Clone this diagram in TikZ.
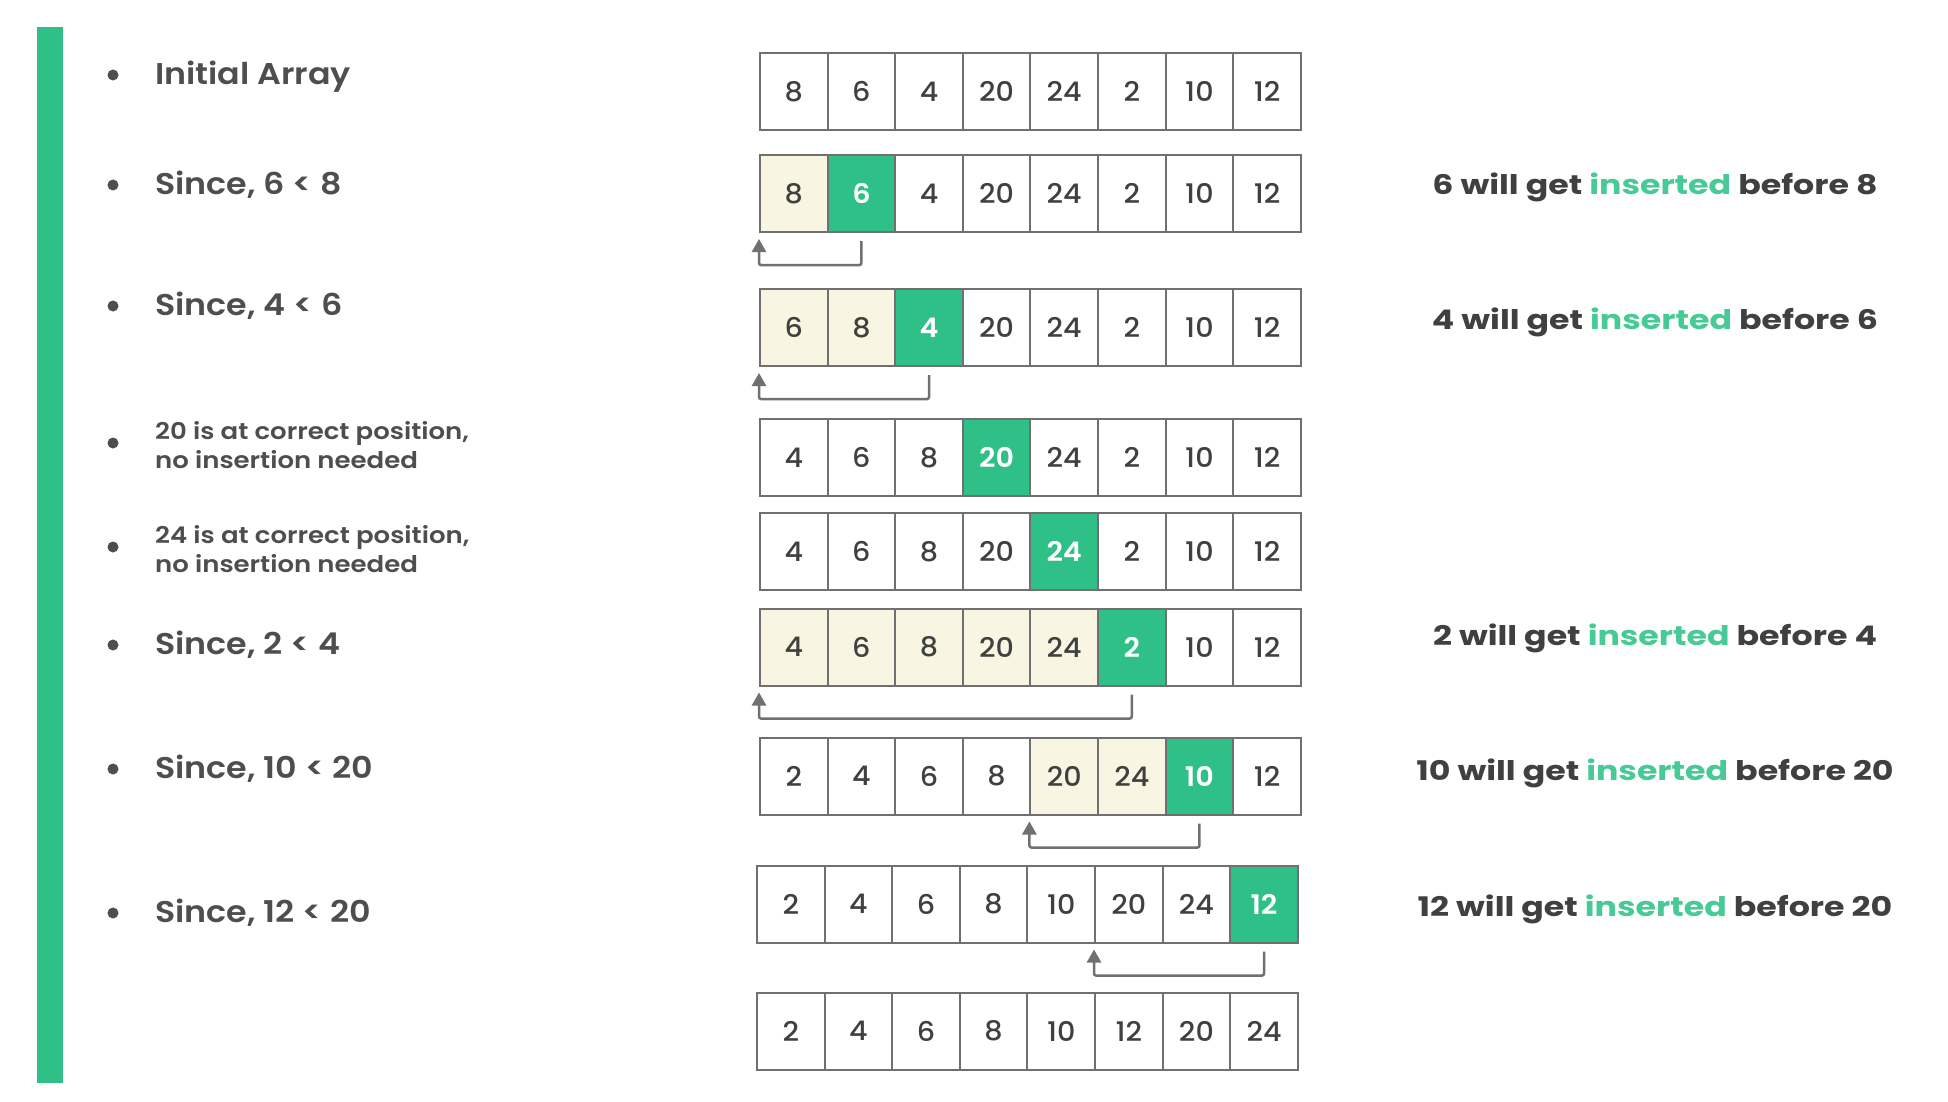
\documentclass[tikz,border=0pt]{standalone}
\usepackage{fontspec}
\setmainfont{Poppins}
\newfontfamily\popsemi{Poppins SemiBold}[FakeStretch=1.11]
\newfontfamily\popsemis{Poppins SemiBold}[FakeStretch=1.13]
\newfontfamily\popbold{Poppins Bold}[FakeStretch=1.23]
\newfontfamily\popmed{Poppins Medium}[FakeStretch=1.06]
\newfontfamily\popcell{Poppins SemiBold}[FakeStretch=1.06]
\usetikzlibrary{arrows.meta,calc}
\definecolor{ggreen}{RGB}{46,192,134}
\definecolor{lgreen}{RGB}{72,202,150}
\definecolor{cream}{RGB}{248,246,226}
\definecolor{txt}{RGB}{64,64,64}
\definecolor{lbl}{RGB}{78,78,78}
\definecolor{bord}{RGB}{112,112,112}
\definecolor{arrc}{RGB}{112,112,112}
\newcommand\arrayrow[4]{%
  \foreach \v/\s [count=\i] in {#4} {
    \node[cell, st\s] (#1c\i) at ({#2+(\i-0.5)*67.6},#3) {\v};
  }}
\begin{document}
\begin{tikzpicture}[x=1pt,y=-1pt,
  cell/.style={draw=bord, line width=2pt, minimum width=67.6pt, minimum height=77pt,
    inner sep=0pt, text=txt, font=\popmed\fontsize{27}{27}\selectfont},
  stn/.style={fill=white},
  stc/.style={fill=cream},
  stg/.style={fill=ggreen, text=white, font=\popcell\fontsize{27}{27}\selectfont},
  bul/.style={circle, fill=lbl, minimum size=11pt, inner sep=0pt},
  lab/.style={anchor=mid west, inner sep=0pt, text=lbl, font=\popsemi\fontsize{30}{32}\selectfont},
  lab2/.style={anchor=west, inner sep=0pt, text=lbl, align=left, font=\popsemis\fontsize{23}{29}\selectfont},
  note/.style={anchor=mid, inner sep=0pt, text=txt, font=\popbold\fontsize{27}{30}\selectfont},
  arr/.style={draw=arrc, line width=2.5pt, rounded corners=2pt, -{Triangle[width=14pt,length=13pt]}}
]
\useasboundingbox[fill=white] (0,0) rectangle (1948,1102);
% green bar
\fill[ggreen] (37,27) rectangle (63,1083);

% arrays
\arrayrow{r1}{760}{91.5}{8/n,6/n,4/n,20/n,24/n,2/n,10/n,12/n}
\arrayrow{r2}{760}{193.5}{8/c,6/g,4/n,20/n,24/n,2/n,10/n,12/n}
\arrayrow{r3}{760}{327.5}{6/c,8/c,4/g,20/n,24/n,2/n,10/n,12/n}
\arrayrow{r4}{760}{457.5}{4/n,6/n,8/n,20/g,24/n,2/n,10/n,12/n}
\arrayrow{r5}{760}{551.5}{4/n,6/n,8/n,20/n,24/g,2/n,10/n,12/n}
\arrayrow{r6}{760}{647}{4/c,6/c,8/c,20/c,24/c,2/g,10/n,12/n}
\arrayrow{r7}{760}{776}{2/n,4/n,6/n,8/n,20/c,24/c,10/g,12/n}
\arrayrow{r8}{757}{904}{2/n,4/n,6/n,8/n,10/n,20/n,24/n,12/g}
\arrayrow{r9}{757}{1031}{2/n,4/n,6/n,8/n,10/n,12/n,20/n,24/n}

% insertion arrows
\draw[arr] ($(r2c2.south)+(0,8)$) -- ++(0,24) -| ($(r2c1.south west)+(0,6)$);
\draw[arr] ($(r3c3.south)+(0,8)$) -- ++(0,24) -| ($(r3c1.south west)+(0,6)$);
\draw[arr] ($(r6c6.south)+(0,8)$) -- ++(0,24) -| ($(r6c1.south west)+(0,6)$);
\draw[arr] ($(r7c7.south)+(0,8)$) -- ++(0,24) -| ($(r7c5.south west)+(0,6)$);
\draw[arr] ($(r8c8.south)+(0,8)$) -- ++(0,24) -| ($(r8c6.south west)+(0,6)$);

% left labels
\node[bul] (b1) at (113,75) {};
\node[lab] (l1) at (155,82) {Initial Array};
\node[bul] (b2) at (113,185) {};
\node[lab] (l2) at (155,192) {Since, 6 < 8};
\node[bul] (b3) at (113,306) {};
\node[lab] (l3) at (155,313) {Since, 4 < 6};
\node[bul] (b4) at (113,443) {};
\node[lab2] (l4) at (155,445) {20 is at correct position,\\no insertion needed};
\node[bul] (b5) at (113,547) {};
\node[lab2] (l5) at (155,549) {24 is at correct position,\\no insertion needed};
\node[bul] (b6) at (113,645) {};
\node[lab] (l6) at (155,652) {Since, 2 < 4};
\node[bul] (b7) at (113,769) {};
\node[lab] (l7) at (155,776) {Since, 10 < 20};
\node[bul] (b8) at (113,913) {};
\node[lab] (l8) at (155,920) {Since, 12 < 20};

% right notes
\node[note] (n2) at (1655,192) {6 will get \textcolor{lgreen}{inserted} before 8};
\node[note] (n3) at (1655,327) {4 will get \textcolor{lgreen}{inserted} before 6};
\node[note] (n6) at (1655,643) {2 will get \textcolor{lgreen}{inserted} before 4};
\node[note] (n7) at (1655,778) {10 will get \textcolor{lgreen}{inserted} before 20};
\node[note] (n8) at (1655,914) {12 will get \textcolor{lgreen}{inserted} before 20};
\end{tikzpicture}
\end{document}
